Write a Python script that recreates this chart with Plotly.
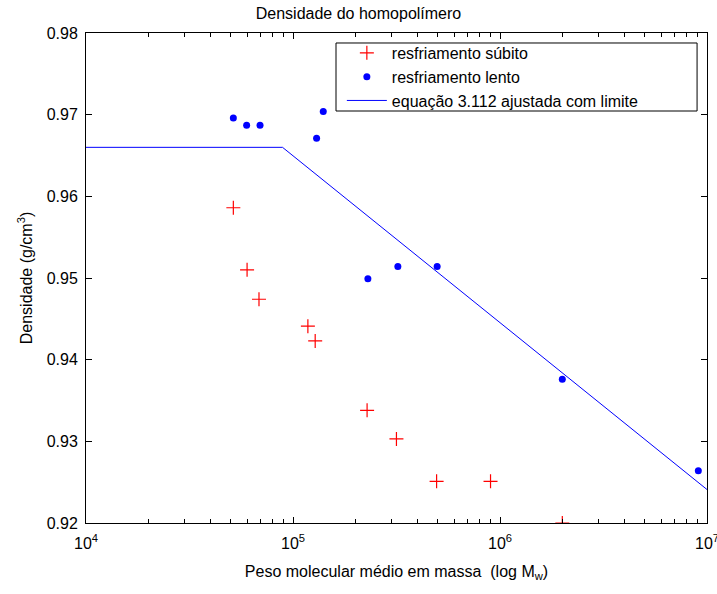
import plotly.graph_objects as go

# Data
subito_x = [51500, 60000, 68500, 118000, 128000, 228000, 316000, 494000, 900000, 2000000]
subito_y = [0.9586, 0.9510, 0.9474, 0.9441, 0.9423, 0.9338, 0.9303, 0.9251, 0.9251, 0.9200]

lento_x = [51500, 59700, 69300, 130000, 140000, 230000, 321000, 497000, 2000000, 9080000]
lento_y = [0.9696, 0.9687, 0.9687, 0.9671, 0.9704, 0.9499, 0.9514, 0.9514, 0.9376, 0.9264]

fit_x = [1e4, 8.9e4, 1e7]
fit_y = [0.966, 0.966, 0.9241]

x_major = [1e4, 1e5, 1e6, 1e7]
x_major_text = ["10<sup>4</sup>", "10<sup>5</sup>", "10<sup>6</sup>", "10<sup>7</sup>"]
y_ticks = [0.92, 0.93, 0.94, 0.95, 0.96, 0.97, 0.98]

x_minor = [m * 10 ** e for e in (4, 5, 6) for m in range(2, 10)]

FONT = "Arial, Liberation Sans, Helvetica, sans-serif"
FS = 16

fig = go.Figure()
fig.add_trace(go.Scatter(
    x=subito_x, y=subito_y, mode="markers", name="resfriamento súbito",
    marker=dict(symbol="cross-thin", size=10, line=dict(color="#ff0000", width=1.2), color="#ff0000"),
))
fig.add_trace(go.Scatter(
    x=lento_x, y=lento_y, mode="markers", name="resfriamento lento",
    marker=dict(symbol="circle", size=7, color="#0000ff"),
))
fig.add_trace(go.Scatter(
    x=fit_x, y=fit_y, mode="lines", name="equação 3.112 ajustada com limite",
    line=dict(color="#0000ff", width=1),
))
# empty trace to activate the mirrored tick axes
fig.add_trace(go.Scatter(x=[], y=[], xaxis="x2", yaxis="y2", showlegend=False, hoverinfo="skip"))

common = dict(showgrid=False, zeroline=False, tickcolor="black", ticks="inside", ticklen=6,
              automargin=False)

# legend frame (drawn as a shape so its size matches the reference)
fig.add_shape(type="rect", xref="paper", yref="paper",
              x0=0.4026, x1=0.984, y0=0.8408, y1=0.9796,
              line=dict(color="black", width=1), fillcolor="white", layer="above")

fig.update_layout(
    width=717, height=594,
    margin=dict(l=86, r=10, t=33, b=71),
    paper_bgcolor="white", plot_bgcolor="white",
    font=dict(family=FONT, size=FS, color="black"),
    title=dict(text="Densidade do homopolímero", x=0.5, xanchor="center",
               y=1 - 13 / 594, yanchor="middle", font=dict(size=FS, family=FONT)),
    showlegend=True,
    legend=dict(x=0.412, y=0.994, xanchor="left", yanchor="top",
                borderwidth=0, bgcolor="rgba(0,0,0,0)",
                font=dict(size=FS, family=FONT), tracegroupgap=0, itemwidth=40),
    xaxis=dict(
        type="log", range=[4, 7],
        tickvals=x_major, ticktext=x_major_text,
        showline=True, linecolor="black", linewidth=1, mirror=True,
        ticklabelstandoff=6, ticklabeloverflow="allow",
        minor=dict(tickvals=x_minor, ticks="inside", ticklen=4, tickcolor="black", showgrid=False),
        title=dict(text="Peso molecular médio em massa  (log M<sub>w</sub>)", standoff=14,
                   font=dict(size=FS, family=FONT)),
        **common,
    ),
    yaxis=dict(
        range=[0.92, 0.98],
        tickvals=y_ticks, ticktext=[f"{v:.2f}" for v in y_ticks],
        showline=True, linecolor="black", linewidth=1, mirror=True,
        ticklabelstandoff=4,
        title=dict(text="Densidade (g/cm<sup>3</sup>)", standoff=10,
                   font=dict(size=FS, family=FONT)),
        **common,
    ),
    xaxis2=dict(
        type="log", range=[4, 7], overlaying="x", side="top", anchor="y",
        tickvals=x_major, showticklabels=False,
        minor=dict(tickvals=x_minor, ticks="inside", ticklen=4, tickcolor="black", showgrid=False),
        **common,
    ),
    yaxis2=dict(
        range=[0.92, 0.98], overlaying="y", side="right", anchor="x",
        tickvals=y_ticks, showticklabels=False,
        **common,
    ),
)

fig.write_html("out.html")
